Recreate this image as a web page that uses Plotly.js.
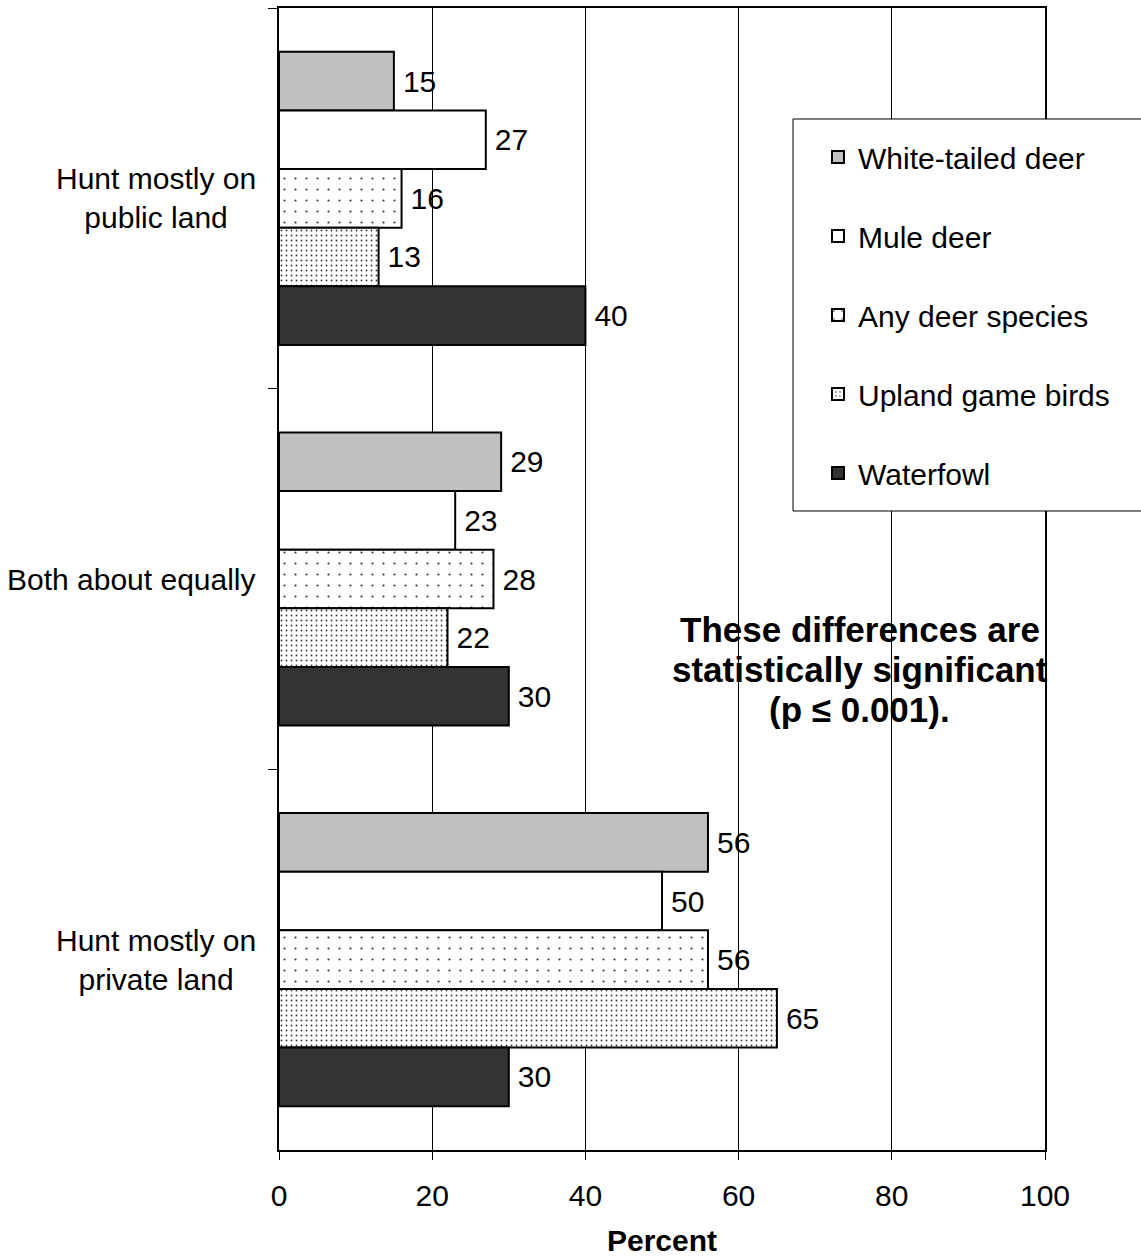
<!DOCTYPE html>
<html>
<head>
<meta charset="utf-8">
<script src="https://cdn.plot.ly/plotly-3.0.1.min.js"></script>
<style>body{margin:0;background:#fff;}#chart{width:1141px;height:1257px;}</style>
</head>
<body>
<div id="chart"></div>
<script>
var categories = ["Hunt mostly on<br>public land", "Both about equally", "Hunt mostly on<br>private land"];
var seriesNames = ["White-tailed deer", "Mule deer", "Any deer species", "Upland game birds", "Waterfowl"];
var whiteTailed = [15, 29, 56];
var muleDeer = [27, 23, 50];
var anyDeer = [16, 28, 56];
var uplandBirds = [13, 22, 65];
var waterfowl = [40, 30, 30];
var xTicks = [0, 20, 40, 60, 80, 100];
var noteLines = ["These differences are", "statistically significant", "(p ≤ 0.001)."];

var values = [whiteTailed, muleDeer, anyDeer, uplandBirds, waterfowl];
var fills = ["#c0c0c0", "#ffffff", "#ffffff", "#ffffff", "#333333"];
var patterns = [
  {shape: ""},
  {shape: ""},
  {shape: ".", size: 11, solidity: 0.03, fgcolor: "#333333", bgcolor: "#ffffff", fillmode: "replace"},
  {shape: ".", size: 5, solidity: 0.1, fgcolor: "#333333", bgcolor: "#ffffff", fillmode: "replace"},
  {shape: ""}
];
var FONT = "Arial, 'Liberation Sans', sans-serif";
var FS = 30;

var traces = values.map(function (v, i) {
  return {
    type: "bar",
    orientation: "h",
    name: seriesNames[i],
    y: categories,
    x: v,
    text: v.map(function (d) { return "\u2009" + d; }),
    textposition: "outside",
    cliponaxis: false,
    textfont: {family: FONT, size: FS, color: "#000"},
    legendgroup: "g" + i,
    marker: {color: fills[i], line: {color: "#000", width: 2}, pattern: patterns[i]},
    hoverinfo: "x+name"
  };
});

var L = 279, R = 1045, T = 8, B = 1150;
function px2paperX(p) { return (p - L) / (R - L); }
function px2paperY(p) { return (B - p) / (B - T); }

var annotations = noteLines.map(function (t, i) {
  return {
    xref: "x", yref: "paper", x: 75.8, y: px2paperY(629 + 40 * i),
    xanchor: "center", yanchor: "middle", align: "center", showarrow: false,
    text: "<b>" + t + "</b>",
    font: {family: FONT, size: 35, color: "#000"}
  };
});
categories.forEach(function (c) {
  annotations.push({
    xref: "paper", yref: "y", x: 0, y: c, xshift: -21,
    xanchor: "right", yanchor: "middle", align: "center", showarrow: false,
    text: c, font: {family: FONT, size: FS, color: "#000"}
  });
});

var layout = {
  width: 1141, height: 1257,
  margin: {l: L, r: 1141 - R, t: T, b: 1257 - B, pad: 0},
  paper_bgcolor: "#fff", plot_bgcolor: "#fff",
  font: {family: FONT, size: FS, color: "#000"},
  barmode: "group",
  bargap: 0.23,
  bargroupgap: 0,
  showlegend: true,
  legend: {
    x: px2paperX(818), y: px2paperY(131), xanchor: "left", yanchor: "top",
    bgcolor: "rgba(0,0,0,0)", borderwidth: 0,
    font: {family: FONT, size: FS, color: "#000"},
    tracegroupgap: 37, traceorder: "grouped", itemwidth: 30
  },
  xaxis: {
    range: [0, 100], tickvals: xTicks, ticktext: xTicks.map(String),
    showgrid: true, gridcolor: "#000", gridwidth: 1,
    showline: true, linecolor: "#000", linewidth: 2, mirror: true,
    ticks: "outside", ticklen: 8, tickcolor: "#000", tickwidth: 1,
    ticklabelstandoff: 10,
    zeroline: false, fixedrange: true,
    tickfont: {family: FONT, size: FS, color: "#000"},
    title: {text: "<b>Percent</b>", font: {family: FONT, size: FS, color: "#000"}, standoff: 23}
  },
  yaxis: {
    type: "category", categoryorder: "array", categoryarray: categories,
    autorange: "reversed",
    showgrid: false, showline: true, linecolor: "#000", linewidth: 2, mirror: true,
    ticks: "outside", ticklen: 9, tickcolor: "#000", tickwidth: 1, tickson: "boundaries",
    showticklabels: false,
    zeroline: false, fixedrange: true
  },
  shapes: [{
    type: "rect", xref: "paper", yref: "paper", layer: "above",
    x0: px2paperX(793), x1: px2paperX(1160), y0: px2paperY(511), y1: px2paperY(119),
    fillcolor: "#fff", line: {color: "#000", width: 1}
  }],
  annotations: annotations
};

Plotly.newPlot("chart", traces, layout, {displayModeBar: false, staticPlot: true});
</script>
</body>
</html>
